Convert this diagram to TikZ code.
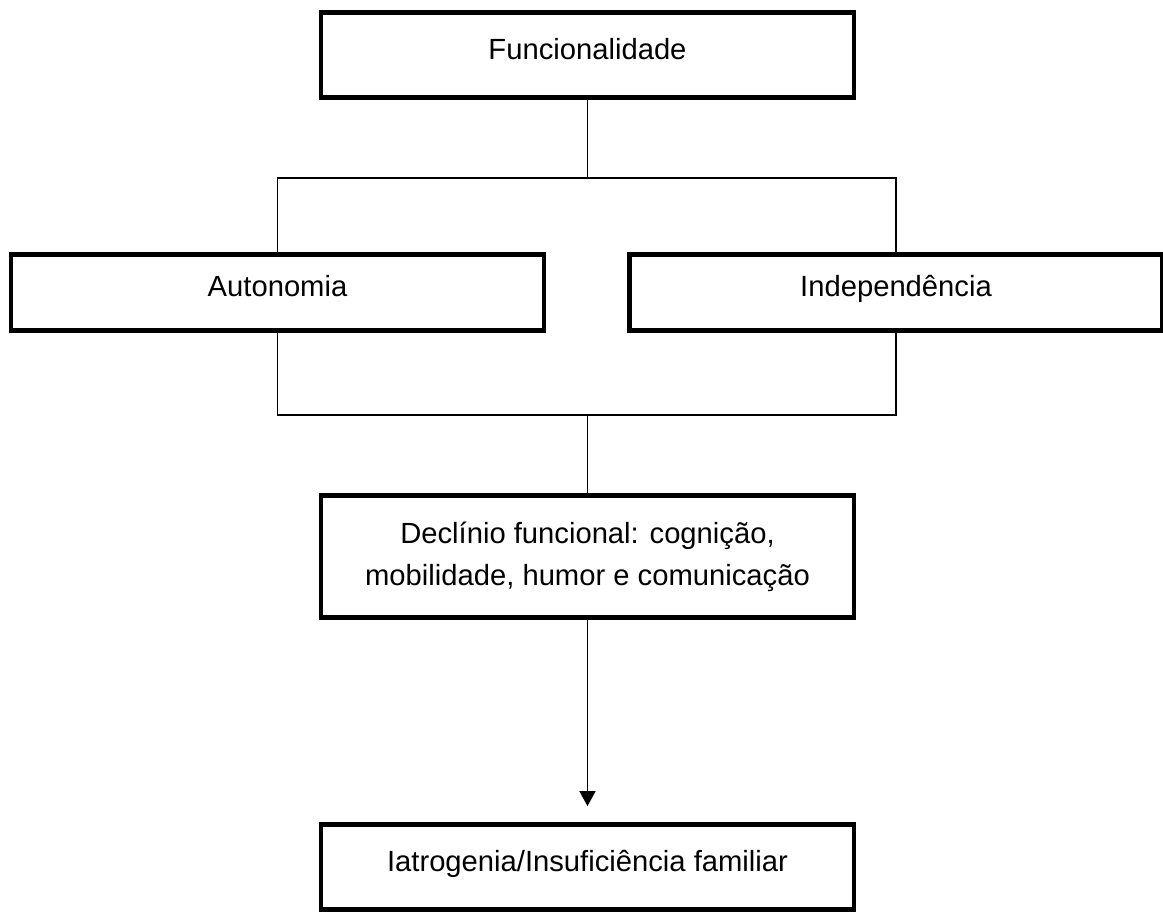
\documentclass[tikz,border=0pt]{standalone}
\usepackage{fontspec}
\setmainfont{Liberation Sans}
\usetikzlibrary{arrows.meta}
\begin{document}
\begin{tikzpicture}[x=0.5pt, y=-0.5pt, line width=0.9pt,
  box/.style = {draw, line width=2.4pt, minimum width=266.5pt, font=\fontsize{14.6}{21}\selectfont},
  one/.style = {box, minimum height=42.5pt, text height=10.5pt, text depth=6pt}]
      \useasboundingbox (0,0) rectangle (1163,914);
      \node[one] (func) at (587.5,55) {Funcionalidade};
      \node[one, minimum height=38pt] (auto) at (277.5,292.5) {Autonomia};
      \node[one, minimum height=38pt] (indep) at (896,292.5) {Independência};
      \node[box, minimum height=61pt, align=center] (decl) at (587.5,556.5) {Declínio funcional: cognição,\\mobilidade, humor e comunicação};
      \node[one] (iatro) at (587.5,867) {Iatrogenia/Insuficiência familiar};
      \coordinate (up) at (587.5,178);
      \coordinate (down) at (587.5,415);

      \draw[-] (func) to (up);
      \draw[-] (auto) |- (up) -| (indep);
      \draw[-] (auto) |- (down) -| (indep);
      \draw[-] (down) to (decl);
      \draw[-{Triangle[width=8pt,length=7.5pt]}, shorten >=8pt] (decl) to (iatro);
\end{tikzpicture}
\end{document}
